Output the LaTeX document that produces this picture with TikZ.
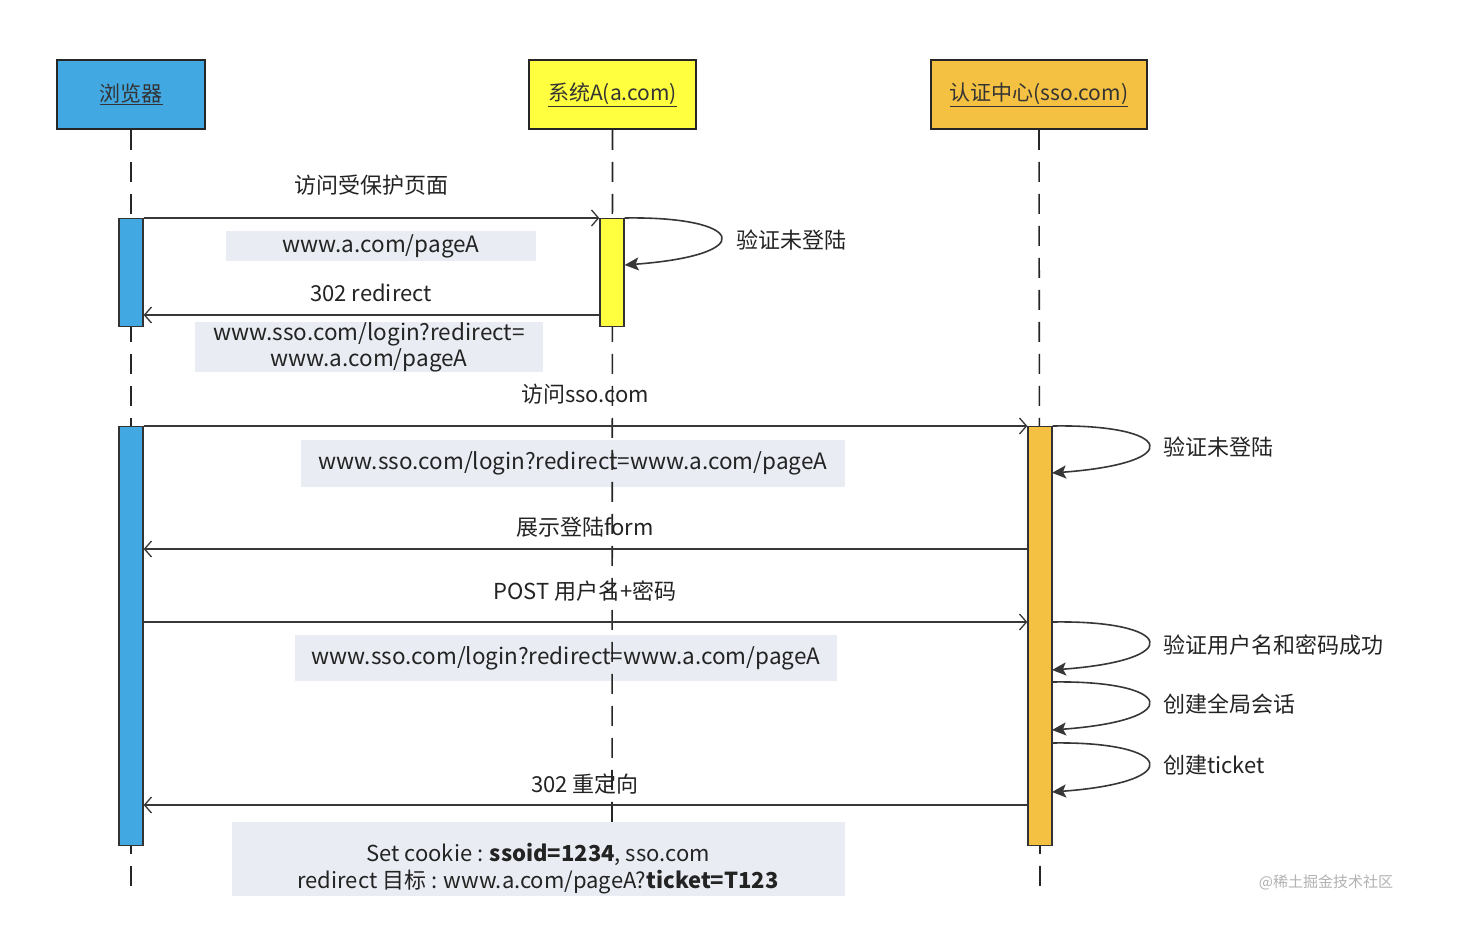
\documentclass[tikz,border=0pt]{standalone}
\usepackage{fontspec}
\setmainfont{Noto Sans CJK SC}
\usetikzlibrary{arrows.meta,calc}
\definecolor{cblue}{RGB}{66,168,226}
\definecolor{cyellow}{RGB}{255,255,64}
\definecolor{corange}{RGB}{244,193,66}
\definecolor{cgraybox}{RGB}{233,237,243}
\definecolor{cline}{RGB}{55,55,55}
\definecolor{ctext}{RGB}{35,35,35}
\begin{document}
\begin{tikzpicture}[x=1pt,y=-1pt,
  head/.style={draw=black!85,line width=1.6pt,minimum height=69pt,inner sep=0pt,font=\fontsize{21}{23}\selectfont,text=black!80},
  actbox/.style={draw=black!80,line width=1.3pt,minimum width=24pt,inner sep=0pt,anchor=north},
  life/.style={draw=black!85,line width=1.6pt,dash pattern=on 20pt off 12pt},
  msg/.style={draw=cline,line width=1.6pt,-{Straight Barb[length=7pt,width=16pt,line width=1.3pt]}},
  selfmsg/.style={draw=cline,line width=1.6pt,-{Stealth[length=14pt,width=13pt,inset=3pt]}},
  lbl/.style={font=\fontsize{22}{24}\selectfont,text=ctext,inner sep=0pt},
  gbox/.style={fill=cgraybox,inner sep=0pt,font=\fontsize{22.5}{26}\selectfont,text=ctext,align=center},
]
\useasboundingbox (0,0) rectangle (1458,936);
\fill[white] (0,0) rectangle (1458,936);

% header boxes
\node[head,fill=cblue,minimum width=148pt] (browser) at (131,94.5) {\underline{浏览器}};
\node[head,fill=cyellow,minimum width=167pt] (sysA) at (612.5,94.5) {\underline{系统A(a.com)}};
\node[head,fill=corange,minimum width=216pt] (sso) at (1039,94.5) {\underline{认证中心(sso.com)}};

% gray note boxes
\node[gbox,minimum width=310pt,minimum height=30pt] (n1) at (381,246) {www.a.com/pageA};
\node[gbox,minimum width=348pt,minimum height=46pt] (n2) at (369,347) {www.sso.com/login?redirect=\\www.a.com/pageA};
\node[gbox,minimum width=544pt,minimum height=47pt] (n3) at (573,463.5) {www.sso.com/login?redirect=www.a.com/pageA};
\node[gbox,minimum width=542pt,minimum height=46pt] (n4) at (566,658) {www.sso.com/login?redirect=www.a.com/pageA};
\node[gbox,minimum width=613pt,minimum height=74pt] (n5) at (538.5,859) {};
\node[lbl,align=center,font=\fontsize{22}{27}\selectfont] (n5t) at (538,869) {Set cookie : \textbf{ssoid=1234}, sso.com\\redirect 目标 : www.a.com/pageA?\textbf{ticket=T123}};

% lifelines
\coordinate (endB) at (131,890);
\coordinate (endA) at (612,822);
\coordinate (endS) at (1040,890);
\draw[life] (browser.south) -- (endB);
\draw[life] (sysA.south) -- (endA);
\draw[life] (sso.south) -- (endS);

% activation boxes
\node[actbox,fill=cblue,minimum height=108pt] (actB1) at (131,218) {};
\node[actbox,fill=cyellow,minimum height=108pt] (actA) at (612,218) {};
\node[actbox,fill=cblue,minimum height=419pt] (actB2) at (131,426) {};
\node[actbox,fill=corange,minimum height=419pt] (actS) at (1040,426) {};

% row coordinates
\coordinate (r2) at (0,315);
\coordinate (r4) at (0,549);
\coordinate (r5) at (0,622);
\coordinate (r6) at (0,805);

% messages
\draw[msg] (actB1.north east) -- (actA.north west);
\draw[msg] (actA.west |- r2) -- (actB1.east |- r2);
\draw[msg] (actB2.north east) -- (actS.north west);
\draw[msg] (actS.west |- r4) -- (actB2.east |- r4);
\draw[msg] (actB2.east |- r5) -- (actS.west |- r5);
\draw[msg] (actS.west |- r6) -- (actB2.east |- r6);

% self messages
\coordinate (sa1) at ($(actA.north east)+(0,47)$);
\draw[selfmsg] (actA.north east) .. controls (745,216) and (760,255) .. (sa1);
\coordinate (ss1e) at (1052,473);
\draw[selfmsg] (actS.north east) .. controls (1173,424) and (1188,463) .. (ss1e);
\coordinate (ss2s) at (actS.east |- r5);
\coordinate (ss2e) at (1052,670);
\draw[selfmsg] (ss2s) .. controls (1173,620) and (1188,660) .. (ss2e);
\coordinate (ss3s) at (1052,682);
\coordinate (ss3e) at (1052,730);
\draw[selfmsg] (ss3s) .. controls (1173,680) and (1188,720) .. (ss3e);
\coordinate (ss4s) at (1052,743);
\coordinate (ss4e) at (1052,792);
\draw[selfmsg] (ss4s) .. controls (1173,741) and (1188,782) .. (ss4e);

% labels
\node[lbl] (l1) at (371,185) {访问受保护页面};
\node[lbl] (l2) at (371,293) {302 redirect};
\node[lbl] (l3) at (585,394) {访问sso.com};
\node[lbl] (l4) at (585,527) {展示登陆form};
\node[lbl] (l5) at (585,591) {POST 用户名+密码};
\node[lbl] (l6) at (585,784) {302 重定向};
\node[lbl,anchor=west] (s1) at (736,240) {验证未登陆};
\node[lbl,anchor=west] (s2) at (1163,447) {验证未登陆};
\node[lbl,anchor=west] (s3) at (1163,645) {验证用户名和密码成功};
\node[lbl,anchor=west] (s4) at (1163,704) {创建全局会话};
\node[lbl,anchor=west] (s5) at (1163,765) {创建ticket};

% watermark
\node[font=\fontsize{15}{16}\selectfont,text=black!30,inner sep=0pt] (wm) at (1326,882) {@稀土掘金技术社区};
\end{tikzpicture}
\end{document}
